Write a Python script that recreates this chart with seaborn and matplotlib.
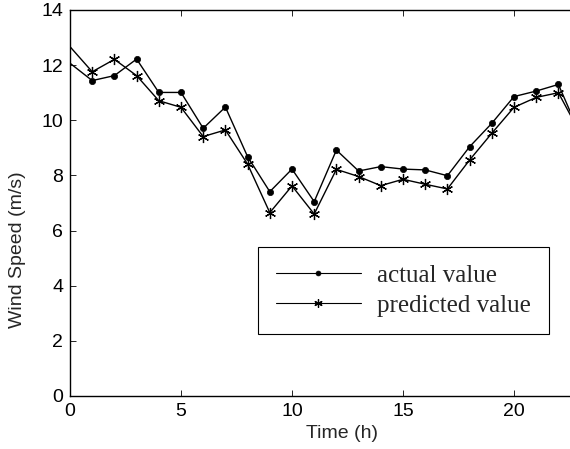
import matplotlib
matplotlib.use("Agg")
import matplotlib.pyplot as plt
import seaborn as sns

# hourly wind speed (m/s)
hours = list(range(24))
actual = [12.07, 11.44, 11.62, 12.22, 11.01, 11.01, 9.71, 10.48, 8.68, 7.41,
          8.23, 7.05, 8.92, 8.16, 8.32, 8.23, 8.20, 7.99, 9.04, 9.89,
          10.86, 11.06, 11.30, 9.45]
predicted = [12.67, 11.76, 12.21, 11.62, 10.71, 10.47, 9.41, 9.65, 8.41, 6.65,
             7.62, 6.60, 8.22, 7.96, 7.63, 7.86, 7.68, 7.51, 8.56, 9.53,
             10.47, 10.83, 11.00, 9.50]
x_ticks = [0, 5, 10, 15, 20]
y_ticks = [0, 2, 4, 6, 8, 10, 12, 14]

sns.set_style("ticks")
plt.rcParams["font.family"] = ["Liberation Sans", "DejaVu Sans"]

fig = plt.figure(figsize=(5.7, 4.49), dpi=100)
# axes runs past the right edge of the figure, as in the cropped original
ax = fig.add_axes([70 / 570, 53 / 449, 24 * 22.2 / 570, 386 / 449])

sns.lineplot(x=hours, y=actual, ax=ax, color="black", lw=1.0,
             marker="o", ms=4.5, mec="black", mfc="black", mew=0.5,
             markevery=slice(1, None), label="actual value")
sns.lineplot(x=hours, y=predicted, ax=ax, color="black", lw=1.0,
             marker=(6, 2, 0), ms=8, mec="black", mew=0.9,
             markevery=slice(1, None), label="predicted value")

ax.set_xlim(0, 24)
ax.set_ylim(0, 14)
ax.set_xticks(x_ticks)
ax.set_yticks(y_ticks)
ax.tick_params(direction="in", length=4, width=0.6, labelsize=14, pad=5,
               top=True, right=True, colors="black")
for sp in ax.spines.values():
    sp.set_linewidth(1.0)
    sp.set_color("black")

ax.set_xlabel("Time (h)", fontsize=14)
ax.set_ylabel("Wind Speed (m/s)", fontsize=14)
ax.xaxis.set_label_coords(0.5096, -0.075)
ax.yaxis.set_label_coords(-0.082, 0.378)

leg = ax.legend(loc="center", bbox_to_anchor=(0.626, 0.273),
                prop={"family": "Liberation Serif", "size": 18},
                frameon=True, fancybox=False, edgecolor="black",
                handlelength=3.4, handletextpad=0.65, labelspacing=0.3,
                borderpad=0.7)
leg.get_frame().set_linewidth(0.8)
leg.get_frame().set_alpha(1)
for h, size in zip(leg.legend_handles, [3.5, 6]):
    h.set_markersize(size)
    h.set_linewidth(0.8)

fig.savefig("out.png", dpi=100)
